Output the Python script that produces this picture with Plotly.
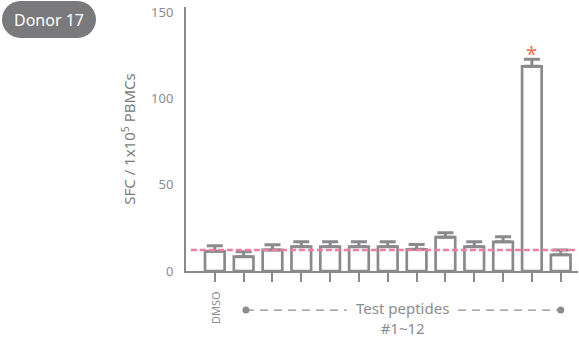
import plotly.graph_objects as go

categories = ["DMSO", "#1", "#2", "#3", "#4", "#5", "#6", "#7", "#8", "#9", "#10", "#11", "#12"]
sfc_mean = [11.4, 8.3, 12.2, 14.1, 14.1, 14.1, 14.1, 12.6, 19.6, 14.1, 16.9, 118.6, 9.4]
sfc_err = [3.2, 2.8, 3.0, 2.8, 2.8, 2.8, 2.8, 2.7, 2.6, 2.8, 2.9, 4.1, 2.8]
threshold = 12.2
significant = [11]
y_ticks = [0, 50, 100, 150]

GRAY = "#8a8a8c"
TXT = "#8c8c8c"
FONT = "Noto Sans, Open Sans, sans-serif"

xs = list(range(len(categories)))

fig = go.Figure()
fig.add_trace(go.Bar(
    x=xs, y=sfc_mean, width=0.68,
    marker=dict(color="white", line=dict(color=GRAY, width=2.7)),
    error_y=dict(type="data", array=sfc_err, arrayminus=[0]*len(sfc_err), symmetric=False,
                 color=GRAY, thickness=3, width=8),
    hoverinfo="skip", showlegend=False,
))

# threshold line
fig.add_shape(type="line", xref="x", yref="y", x0=-0.83, x1=12.6, y0=threshold, y1=threshold,
              line=dict(color="#f07ea0", width=2.5, dash="6px,3px"), layer="above")

# significance asterisk
for i in significant:
    fig.add_annotation(x=i, y=sfc_mean[i] + sfc_err[i], yref="y", xref="x", text="*",
                       showarrow=False, xanchor="center", yanchor="bottom", yshift=-10,
                       font=dict(family=FONT, size=20, color="#f26b4a"))

# DMSO label
fig.add_annotation(x=0, y=-0.137, xref="x", yref="paper", text="DMSO", textangle=-90,
                   showarrow=False, xanchor="center", yanchor="middle",
                   font=dict(family=FONT, size=11, color=TXT))

# Test peptides bracket
BY = -0.148
for a, b in [(1.08, 4.58), (8.44, 12.0)]:
    fig.add_shape(type="line", xref="x", yref="paper", x0=a, x1=b, y0=BY, y1=BY,
                  line=dict(color=TXT, width=1.2, dash="8px,6px"))
for xd in [1.08, 12.0]:
    fig.add_shape(type="circle", xref="x", yref="paper", xsizemode="pixel", ysizemode="pixel",
                  xanchor=xd, yanchor=BY, x0=-3.5, x1=3.5, y0=-3.5, y1=3.5,
                  fillcolor=TXT, line=dict(width=0))
fig.add_annotation(x=6.51, y=-0.178, xref="x", yref="paper", text="Test peptides<br>#1~12",
                   showarrow=False, xanchor="center", yanchor="middle", align="center",
                   font=dict(family=FONT, size=15, color=TXT))

# Donor pill (stadium shape)
r = 18.5
x0, x1, yt, yb = -184, -90, 6, -31
k = 0.5523 * r
ym = (yt + yb) / 2
path = (f"M {x0+r},{yt} L {x1-r},{yt} "
        f"C {x1-r+k},{yt} {x1},{ym+k} {x1},{ym} "
        f"C {x1},{ym-k} {x1-r+k},{yb} {x1-r},{yb} "
        f"L {x0+r},{yb} "
        f"C {x0+r-k},{yb} {x0},{ym-k} {x0},{ym} "
        f"C {x0},{ym+k} {x0+r-k},{yt} {x0+r},{yt} Z")
fig.add_shape(type="path", xref="paper", yref="paper", xsizemode="pixel", ysizemode="pixel",
              xanchor=0, yanchor=1, path=path,
              fillcolor="#7a7a7c", line=dict(width=0), layer="above")
fig.add_annotation(xref="paper", yref="paper", x=0, y=1, xshift=-137, yshift=ym,
                   xanchor="center", yanchor="middle",
                   text="Donor 17", showarrow=False,
                   font=dict(family=FONT, size=16, color="white"))

fig.update_layout(
    width=579, height=342,
    margin=dict(l=186, r=1, t=7, b=71, autoexpand=False),
    plot_bgcolor="white", paper_bgcolor="white",
    xaxis=dict(range=[-1.0, 12.6], showgrid=False, zeroline=False, showline=True,
               linecolor=GRAY, linewidth=2, ticks="outside", ticklen=9, tickwidth=1.5,
               tickcolor=GRAY, tickvals=xs, showticklabels=False, fixedrange=True,
               automargin=False),
    yaxis=dict(range=[0, 153], showgrid=False, zeroline=False, showline=True,
               linecolor=GRAY, linewidth=2, ticks="", tickvals=y_ticks, automargin=False,
               tickfont=dict(family=FONT, size=13, color=TXT), ticklabelstandoff=8,
               title=dict(text="SFC / 1x10<sup>5</sup> PBMCs", standoff=12,
                          font=dict(family=FONT, size=15, color="#7c7c7c"))),
    bargap=0.3,
)

fig.write_html("out.html", config={"displayModeBar": False},
               post_script="document.body.style.margin='0';")
